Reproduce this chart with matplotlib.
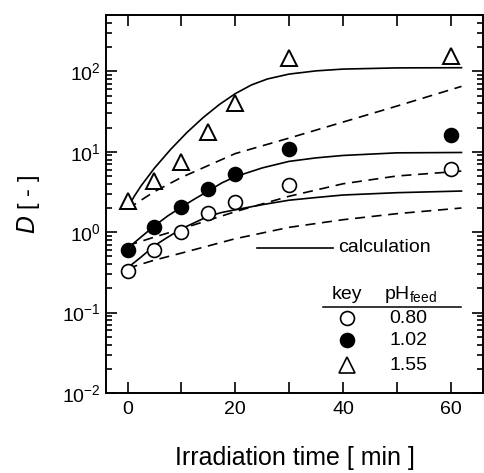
import numpy as np
import matplotlib.pyplot as plt
from matplotlib.ticker import LogLocator, MultipleLocator, NullFormatter

plt.rcParams['font.family'] = ['Liberation Sans', 'DejaVu Sans']
plt.rcParams['mathtext.default'] = 'regular'

# Measured distribution ratios
t_exp = [0, 5, 10, 15, 20, 30, 60]
D_080 = [0.33, 0.60, 1.0, 1.75, 2.35, 3.9, 6.1]
D_102 = [0.60, 1.16, 2.05, 3.4, 5.3, 10.8, 16.0]
D_155 = [2.45, 4.3, 7.4, 17.5, 40.0, 148.0, 155.0]

# Calculation (solid) curves
t_s155 = [0, 1.25, 2.5, 5, 8, 11, 14, 17, 20, 23, 26, 30, 35, 40, 50, 62]
s155 = [2.0, 2.8, 3.76, 6.27, 10.7, 17.3, 26.5, 38.5, 52.8, 67.8, 80.5, 92.5,
        101.4, 106.7, 110.4, 111.0]
t_s = [0, 2.5, 5, 7.5, 10, 12.5, 15, 17.5, 20, 25, 30, 35, 40, 50, 62]
s102 = [0.63, 0.87, 1.2, 1.6, 2.05, 2.6, 3.25, 4.1, 4.9, 6.3, 7.6, 8.4, 9.0, 9.7, 9.8]
s080 = [0.36, 0.49, 0.68, 0.87, 1.1, 1.32, 1.58, 1.76, 1.9, 2.2, 2.5, 2.7, 2.9, 3.1, 3.25]

# Dashed curves
t_d = [0, 5, 10, 20, 30, 40, 50, 62]
d155 = [1.95, 3.2, 4.8, 9.5, 14.8, 23.4, 37.0, 65.0]
d102 = [0.68, 0.87, 1.1, 1.8, 2.8, 4.0, 5.0, 5.75]
d080 = [0.355, 0.45, 0.55, 0.83, 1.15, 1.43, 1.7, 2.0]

keys = ['0.80', '1.02', '1.55']

fig = plt.figure(figsize=(4.84, 4.73), dpi=100)
ax = fig.add_axes([0.219, 0.169, 0.779, 0.799])

lw = 1.2
dash = (0, (6, 4))
for tt, yy in [(t_s155, s155), (t_s, s102), (t_s, s080)]:
    ax.plot(tt, yy, color='black', lw=lw)
for yy in [d155, d102, d080]:
    ax.plot(t_d, yy, color='black', lw=lw, linestyle=dash)

ms = 10
ax.plot(t_exp, D_080, 'o', ms=ms, mfc='white', mec='black', mew=1.2, ls='none')
ax.plot(t_exp, D_102, 'o', ms=ms, mfc='black', mec='black', mew=1.2, ls='none')
ax.plot(t_exp, D_155, '^', ms=11, mfc='white', mec='black', mew=1.4, ls='none')

ax.set_yscale('log')
ax.set_xlim(-4, 66)
ax.set_ylim(1e-2, 500)

ax.xaxis.set_major_locator(MultipleLocator(20))
ax.xaxis.set_minor_locator(MultipleLocator(10))
ax.yaxis.set_major_locator(LogLocator(base=10, numticks=10))
ax.yaxis.set_minor_locator(LogLocator(base=10, subs=np.arange(2, 10), numticks=20))
ax.yaxis.set_minor_formatter(NullFormatter())

ax.tick_params(which='both', direction='in', top=True, right=True,
               labelsize=14, width=1.2)
ax.tick_params(axis='x', which='both', length=8, pad=6)
ax.tick_params(axis='y', which='major', length=8, pad=4)
ax.tick_params(axis='y', which='minor', length=4)
for s in ax.spines.values():
    s.set_linewidth(1.4)

ax.set_xlabel('Irradiation time [ min ]', fontsize=18, labelpad=20)
ax.set_ylabel('$\\mathit{D}$ [ - ]', fontsize=17, labelpad=14)

# Legend drawn as text table
T = ax.transAxes
ax.plot([0.40, 0.602], [0.384, 0.384], color='black', lw=lw, transform=T)
ax.text(0.615, 0.384, 'calculation', transform=T, fontsize=14, va='center', ha='left')

ax.text(0.639, 0.262, 'key', transform=T, fontsize=14, va='center', ha='center')
ax.text(0.738, 0.262, 'pH$_{feed}$', transform=T, fontsize=14, va='center', ha='left')
ax.plot([0.576, 0.942], [0.228, 0.228], color='black', lw=1.1, transform=T)

rows_y = [0.198, 0.140, 0.074]
styles = [dict(marker='o', ms=ms, mfc='white'), dict(marker='o', ms=ms, mfc='black'),
          dict(marker='^', ms=11, mfc='white')]
for k, ry, st in zip(keys, rows_y, styles):
    ax.plot([0.639], [ry], transform=T, mec='black', mew=1.2, ls='none', **st)
    ax.text(0.801, ry, k, transform=T, fontsize=14, va='center', ha='center')

fig.savefig('out.png', dpi=100)
